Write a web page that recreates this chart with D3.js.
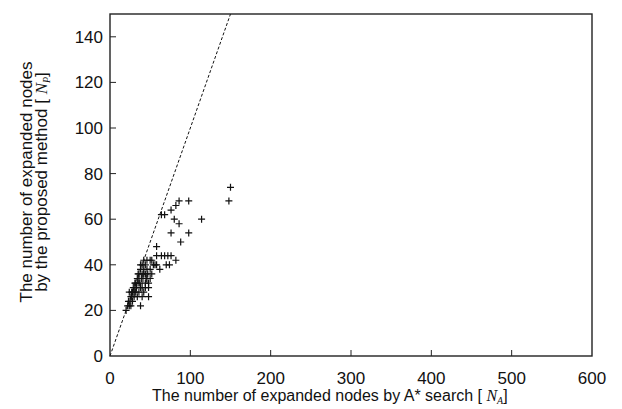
<!DOCTYPE html>
<html>
<head>
<meta charset="utf-8">
<script src="https://cdn.jsdelivr.net/npm/d3@7"></script>
<style>
  body { margin: 0; background: #fff; }
  svg text { font-family: "Liberation Sans", Arial, sans-serif; fill: #111; }
</style>
</head>
<body>
<svg id="chart" width="622" height="409"></svg>
<script>
// axis settings
const xTicks = [0, 100, 200, 300, 400, 500, 600];
const yTicks = [0, 20, 40, 60, 80, 100, 120, 140];
const xDomain = [0, 600];
const yDomain = [0, 150];

// N_A (A* search) values
const nA = [20, 22, 24, 23, 25, 26, 27, 28, 26, 30, 28, 30, 32, 34, 29, 31, 33, 35, 38, 36,
  38, 40, 37, 39, 41, 36, 40, 42, 38, 42, 44, 46, 48, 48, 44, 40, 42, 46, 50, 44,
  46, 50, 52, 54, 52, 56, 58, 62, 64, 58, 68, 72, 76, 82, 70, 74, 58, 64, 68, 76,
  82, 86, 98, 80, 86, 114, 76, 98, 88, 148, 150, 44, 40, 34, 32, 36, 50, 48, 42, 24,
  27, 31, 35, 38, 45, 47];
// N_P (proposed method) values
const nP = [20, 22, 22, 24, 24, 22, 26, 24, 26, 26, 28, 28, 28, 26, 30, 30, 30, 32, 22, 28,
  30, 26, 32, 34, 34, 34, 36, 36, 38, 38, 36, 34, 32, 30, 40, 40, 42, 42, 42, 32,
  38, 38, 36, 40, 42, 40, 40, 38, 44, 44, 44, 44, 44, 42, 40, 40, 48, 62, 62, 64,
  66, 68, 68, 60, 58, 60, 54, 54, 50, 68, 74, 30, 30, 34, 32, 36, 34, 26, 28, 28,
  28, 32, 36, 40, 34, 36];

const svg = d3.select("#chart");
const mLeft = 110, mRight = 592, mTop = 14, mBottom = 356;

const x = d3.scaleLinear().domain(xDomain).range([mLeft, mRight]);
const y = d3.scaleLinear().domain(yDomain).range([mBottom, mTop]);

// ticks (inward)
svg.append("g")
  .selectAll("line")
  .data(xTicks.slice(1, -1))
  .enter().append("line")
  .attr("x1", d => x(d)).attr("x2", d => x(d))
  .attr("y1", mBottom).attr("y2", mBottom - 6)
  .attr("stroke", "#222").attr("stroke-width", 1);

svg.append("g")
  .selectAll("line")
  .data(yTicks.slice(1))
  .enter().append("line")
  .attr("x1", mLeft).attr("x2", mLeft + 6)
  .attr("y1", d => y(d)).attr("y2", d => y(d))
  .attr("stroke", "#222").attr("stroke-width", 1);

// tick labels
svg.append("g")
  .selectAll("text")
  .data(xTicks)
  .enter().append("text")
  .attr("x", d => x(d))
  .attr("y", 384)
  .attr("text-anchor", "middle")
  .style("font-size", "17px")
  .text(d => d);

svg.append("g")
  .selectAll("text")
  .data(yTicks)
  .enter().append("text")
  .attr("x", 103)
  .attr("y", d => y(d) + 6)
  .attr("text-anchor", "end")
  .style("font-size", "17px")
  .text(d => d);

// y = x reference line, clipped at top
const lineEnd = Math.min(xDomain[1], yDomain[1]);
svg.append("line")
  .attr("x1", x(0)).attr("y1", y(0))
  .attr("x2", x(lineEnd)).attr("y2", y(lineEnd))
  .attr("stroke", "#111")
  .attr("stroke-width", 1)
  .attr("stroke-dasharray", "3,2");

// points as "+" markers
const pts = nA.map((d, i) => [d, nP[i]]);
const s = 3.5;
svg.append("g")
  .selectAll("path")
  .data(pts)
  .enter().append("path")
  .attr("d", d => {
    const cx = x(d[0]), cy = y(d[1]);
    return `M${cx - s},${cy}H${cx + s}M${cx},${cy - s}V${cy + s}`;
  })
  .attr("stroke", "#111")
  .attr("stroke-width", 1.2)
  .attr("fill", "none");

// frame
svg.append("rect")
  .attr("x", mLeft).attr("y", mTop)
  .attr("width", mRight - mLeft).attr("height", mBottom - mTop)
  .attr("fill", "none")
  .attr("stroke", "#222")
  .attr("stroke-width", 1.4);

// x axis title
const xt = svg.append("text")
  .attr("x", 152)
  .attr("y", 401)
  .attr("text-anchor", "start")
  .style("font-size", "16px");
xt.append("tspan").text("The number of expanded nodes by A* search [ ");
xt.append("tspan").style("font-family", "'Liberation Serif', serif").style("font-style", "italic").text("N");
xt.append("tspan").style("font-family", "'Liberation Serif', serif").style("font-style", "italic")
  .style("font-size", "10px").attr("dy", 3).text("A");
xt.append("tspan").attr("dy", -3).text("]");

// y axis title, two lines
const midY = 182;
svg.append("text")
  .attr("transform", `translate(32,${midY}) rotate(-90)`)
  .attr("text-anchor", "middle")
  .style("font-size", "17px")
  .text("The number of expanded nodes");
const yt = svg.append("text")
  .attr("transform", `translate(47,${midY}) rotate(-90)`)
  .attr("text-anchor", "middle")
  .style("font-size", "17px");
yt.append("tspan").text("by the proposed method [ ");
yt.append("tspan").style("font-family", "'Liberation Serif', serif").style("font-style", "italic").text("N");
yt.append("tspan").style("font-family", "'Liberation Serif', serif").style("font-style", "italic")
  .style("font-size", "10px").attr("dy", 3).text("P");
yt.append("tspan").attr("dy", -3).text("]");
</script>
</body>
</html>
